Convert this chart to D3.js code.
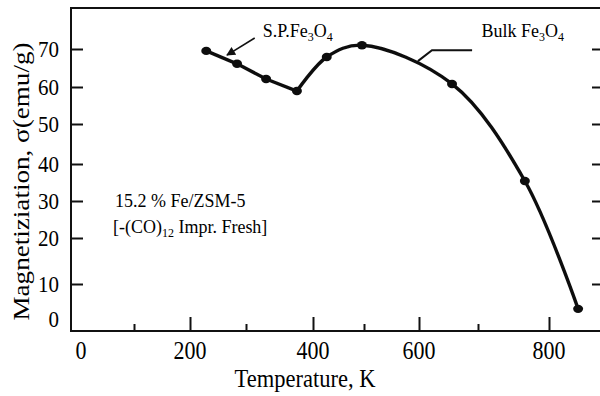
<!DOCTYPE html>
<html>
<head>
<meta charset="utf-8">
<script src="https://cdn.jsdelivr.net/npm/d3@7"></script>
<style>
  html, body { margin: 0; padding: 0; background: #fff; }
  svg { display: block; }
  text { font-family: "Liberation Serif", "Times New Roman", serif; fill: #000; }
</style>
</head>
<body>
<svg id="chart" width="600" height="396"></svg>
<script>
// Measured magnetization vs temperature, 15.2 % Fe/ZSM-5
const temperatureK = [229, 284, 330, 376, 427, 496, 656, 766, 841];
const magnetization = [69.5, 66.1, 62.1, 58.9, 67.9, 71.0, 60.8, 35.4, 2.9];

// Axis ticks
const xLabelTicks = [0, 200, 400, 600, 800];
const xMajorTicks = [200, 400, 600, 800];
const xMinorTicks = [100, 300, 500, 700];
const yLabelTicks = [0, 10, 20, 30, 40, 50, 60, 70];
const yTickMarks = [10, 20, 30, 40, 50, 60, 70];

// Annotation anchors in data units
const spArrow = [[313, 72.9], [266, 68.4]];
const bulkLeader = [[598, 66.8], [622, 69.7], [690, 69.7]];
const spLabelAt = [325, 73.2];
const bulkLabelAt = [705, 73.2];

const svg = d3.select("#chart");
const frame = { left: 71, top: 8, bottom: 331, right: 600 };

// The scanned axes are not evenly spaced, so the scales are piecewise linear.
const x = d3.scaleLinear()
  .domain([0, 100, 200, 300, 400, 500, 600, 700, 800])
  .range([81, 134, 190, 246, 313, 364, 419, 478, 549]);
const y = d3.scaleLinear()
  .domain([0, 10, 20, 30, 40, 50, 60, 70])
  .range([319, 284, 238, 201, 164, 124, 87, 49]);

const ink = "#111";

// Frame: left axis, bottom axis, top border
svg.append("path")
  .attr("d", `M${frame.right},${frame.top}H${frame.left}V${frame.bottom}H${frame.right}`)
  .attr("fill", "none").attr("stroke", ink).attr("stroke-width", 2);

// Bottom axis ticks (inward)
function tickStyle(g) {
  g.select(".domain").remove();
  g.selectAll(".tick line").attr("stroke", ink).attr("stroke-width", 2);
  g.selectAll(".tick text").remove();
}
svg.append("g").attr("transform", `translate(0,${frame.bottom})`)
  .call(d3.axisTop(x).tickValues(xMajorTicks).tickSize(14).tickFormat(""))
  .call(tickStyle);
svg.append("g").attr("transform", `translate(0,${frame.bottom})`)
  .call(d3.axisTop(x).tickValues(xMinorTicks).tickSize(7).tickFormat(""))
  .call(tickStyle);

// Left and right axis ticks (inward)
svg.append("g").attr("transform", `translate(${frame.left},0)`)
  .call(d3.axisRight(y).tickValues(yTickMarks).tickSize(12).tickFormat(""))
  .call(tickStyle);
svg.append("g").attr("transform", `translate(${frame.right},0)`)
  .call(d3.axisLeft(y).tickValues(yTickMarks).tickSize(8).tickFormat(""))
  .call(tickStyle);

// Tick labels (the scan is slightly stretched vertically)
svg.append("g").selectAll("text").data(xLabelTicks).join("text")
  .attr("transform", d => `translate(${x(d)},359) scale(1,1.12)`)
  .attr("text-anchor", "middle")
  .style("font-size", "22px")
  .text(d => d);

svg.append("g").selectAll("text").data(yLabelTicks).join("text")
  .attr("transform", d => `translate(59,${y(d) + 7.8}) scale(1,1.1)`)
  .attr("text-anchor", "end")
  .style("font-size", "21px")
  .text(d => d);

// Axis titles
svg.append("text")
  .attr("transform", "translate(305,387) scale(1,1.13)")
  .attr("text-anchor", "middle")
  .style("font-size", "22.5px")
  .text("Temperature, K");

svg.append("text")
  .attr("transform", "translate(29,181.5) scale(1,1.13) rotate(-90)")
  .attr("text-anchor", "middle")
  .style("font-size", "24px")
  .text("Magnetiziation, σ(emu/g)");

// Sample description
const desc = svg.append("g").style("font-size", "18px");
desc.append("text").attr("transform", "translate(115,207) scale(1,1.1)")
  .text("15.2 % Fe/ZSM-5");
const d2 = desc.append("text").attr("transform", "translate(113,233) scale(1,1.1)");
d2.append("tspan").text("[-(CO)");
d2.append("tspan").attr("dy", 4).style("font-size", "12px").text("12");
d2.append("tspan").attr("dy", -4).text(" Impr. Fresh]");

// Fe3O4 labels with subscripts
function fe3o4(prefix, at) {
  const t = svg.append("text")
    .attr("transform", `translate(${x(at[0])},${y(at[1])}) scale(1,1.1)`)
    .style("font-size", "18px");
  t.append("tspan").text(prefix + "Fe");
  t.append("tspan").attr("dy", 4).style("font-size", "12px").text("3");
  t.append("tspan").attr("dy", -4).text("O");
  t.append("tspan").attr("dy", 4).style("font-size", "12px").text("4");
}
fe3o4("S.P.", spLabelAt);
fe3o4("Bulk ", bulkLabelAt);

// Arrow to the superparamagnetic branch
svg.append("defs").append("marker")
  .attr("id", "arrowhead")
  .attr("viewBox", "0 0 10 10")
  .attr("refX", 9).attr("refY", 5)
  .attr("markerUnits", "userSpaceOnUse")
  .attr("markerWidth", 11).attr("markerHeight", 9)
  .attr("orient", "auto")
  .append("path").attr("d", "M0,0L10,5L0,10Z").attr("fill", ink);

const line = d3.line().x(d => x(d[0])).y(d => y(d[1]));
svg.append("path")
  .attr("d", line(spArrow))
  .attr("fill", "none").attr("stroke", ink).attr("stroke-width", 1.6)
  .attr("marker-end", "url(#arrowhead)");

svg.append("path")
  .attr("d", line(bulkLeader))
  .attr("fill", "none").attr("stroke", ink).attr("stroke-width", 2);

// Data curve: straight segments down to the minimum, then a smooth branch
svg.append("defs").append("filter").attr("id", "soft")
  .append("feGaussianBlur").attr("stdDeviation", 0.5);

const pts = temperatureK.map((t, i) => [t, magnetization[i]]);
const plot = svg.append("g").attr("filter", "url(#soft)");
plot.append("path")
  .attr("d", d3.line().x(d => x(d[0])).y(d => y(d[1])).curve(d3.curveLinear)(pts.slice(0, 4)))
  .attr("fill", "none").attr("stroke", ink).attr("stroke-width", 3.4)
  .attr("stroke-linejoin", "round").attr("stroke-linecap", "round");
plot.append("path")
  .attr("d", d3.line().x(d => x(d[0])).y(d => y(d[1])).curve(d3.curveCatmullRom.alpha(0.5))(pts.slice(3)))
  .attr("fill", "none").attr("stroke", ink).attr("stroke-width", 3.4)
  .attr("stroke-linejoin", "round").attr("stroke-linecap", "round");
plot.selectAll("ellipse").data(pts).join("ellipse")
  .attr("cx", d => x(d[0])).attr("cy", d => y(d[1]))
  .attr("rx", 5).attr("ry", 4.2).attr("fill", ink);
</script>
</body>
</html>
